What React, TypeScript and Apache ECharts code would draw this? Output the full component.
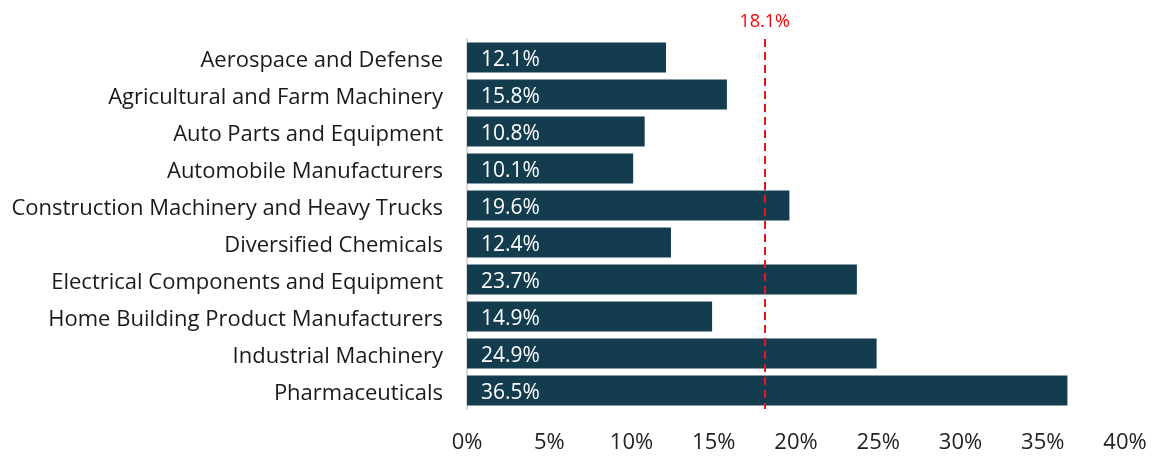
import React, { useEffect, useRef } from "react";
import * as echarts from "echarts";

const categories = [
  "Aerospace and Defense",
  "Agricultural and Farm Machinery",
  "Auto Parts and Equipment",
  "Automobile Manufacturers",
  "Construction Machinery and Heavy Trucks",
  "Diversified Chemicals",
  "Electrical Components and Equipment",
  "Home Building Product Manufacturers",
  "Industrial Machinery",
  "Pharmaceuticals",
];
const values = [12.1, 15.8, 10.8, 10.1, 19.6, 12.4, 23.7, 14.9, 24.9, 36.5];
const average = 18.1;

export default function App() {
  const ref = useRef<HTMLDivElement>(null);
  useEffect(() => {
    if (!ref.current) return;
    const chart = echarts.init(ref.current, null, { renderer: "svg" });
    const font = "'Open Sans', 'Noto Sans', sans-serif";
    chart.setOption({
      animation: false,
      textStyle: { fontFamily: font },
      grid: { left: 467, right: 33, top: 39, bottom: 48, containLabel: false },
      xAxis: {
        type: "value",
        min: 0,
        max: 40,
        interval: 5,
        splitLine: { show: false },
        axisLine: { show: false },
        axisTick: { show: false },
        axisLabel: {
          formatter: "{value}%",
          fontSize: 22,
          color: "#222",
          margin: 20,
          fontFamily: font,
        },
      },
      yAxis: {
        type: "category",
        data: categories,
        inverse: true,
        axisTick: { show: false },
        axisLine: { show: true, lineStyle: { color: "#d9d9d9", width: 2 } },
        axisLabel: { fontSize: 22, color: "#1a1a1a", margin: 24, fontFamily: font },
      },
      series: [
        {
          type: "bar",
          data: values,
          barCategoryGap: "19%",
          itemStyle: { color: "#133C4F" },
          label: {
            show: true,
            position: "insideLeft",
            distance: 14,
            color: "#fff",
            fontSize: 21,
            fontFamily: font,
            formatter: (p: any) => p.value.toFixed(1) + "%",
          },
          markLine: {
            symbol: "none",
            silent: true,
            lineStyle: { color: "#E8141B", type: [8, 5], width: 2 },
            label: {
              show: true,
              position: "start",
              color: "#FF0000",
              fontSize: 18,
              distance: 10,
              fontFamily: font,
              formatter: average.toFixed(1) + "%",
            },
            data: [{ xAxis: average }],
          },
        },
      ],
    });
    return () => chart.dispose();
  }, []);
  return (
    <div
      ref={ref}
      style={{ position: "fixed", left: 0, top: 0, width: 1158, height: 457 }}
    />
  );
}
